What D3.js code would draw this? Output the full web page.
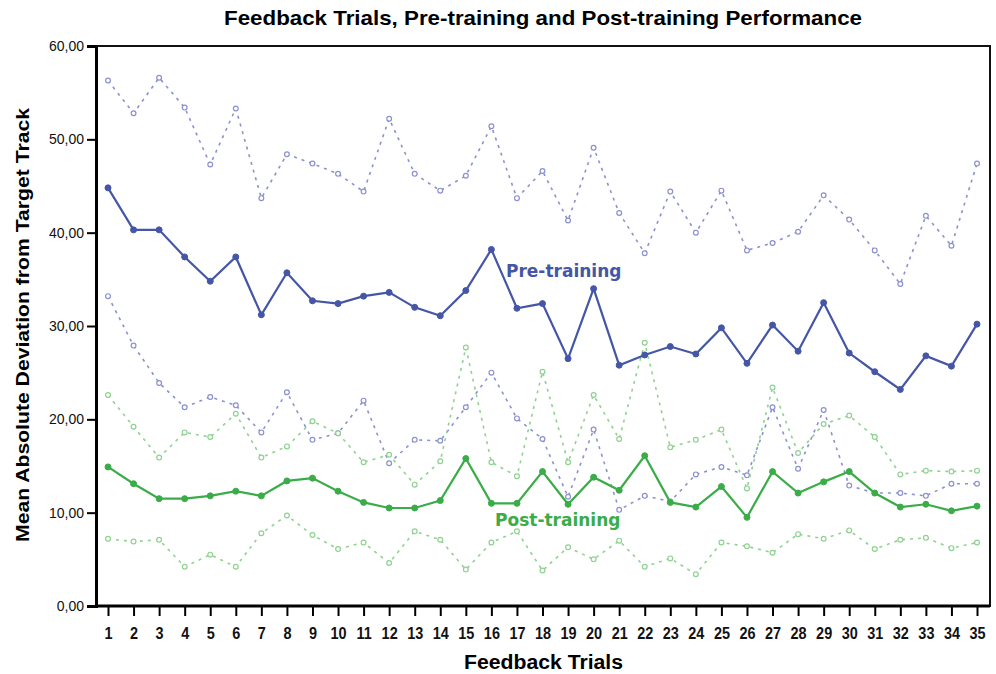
<!DOCTYPE html>
<html>
<head>
<meta charset="utf-8">
<script src="https://cdn.jsdelivr.net/npm/d3@7"></script>
<style>
  body { margin: 0; background: #fff; }
  .narrow { font-family: "Liberation Sans Narrow", "Arial Narrow", "Liberation Sans", sans-serif; }
</style>
</head>
<body>
<div id="container"></div>
<script>
/* CONSTANTS AND GLOBALS */
const width = 996, height = 674,
      margin = {top: 46, right: 6, bottom: 68, left: 96};

// DATA
const trials = d3.range(1, 36);
const yTicks = [0, 10, 20, 30, 40, 50, 60];

const preMean  = [44.8, 40.3, 40.3, 37.4, 34.8, 37.4, 31.2, 35.7, 32.7, 32.4, 33.2, 33.6, 32.0, 31.1, 33.8, 38.2, 31.9, 32.4, 26.5, 34.0, 25.8, 26.9, 27.8, 27.0, 29.8, 26.0, 30.1, 27.3, 32.5, 27.1, 25.1, 23.2, 26.8, 25.7, 30.2];
const preUpper = [56.3, 52.8, 56.6, 53.4, 47.3, 53.3, 43.7, 48.4, 47.4, 46.3, 44.4, 52.2, 46.3, 44.5, 46.1, 51.4, 43.7, 46.6, 41.3, 49.1, 42.1, 37.8, 44.4, 40.0, 44.5, 38.1, 38.9, 40.1, 44.0, 41.4, 38.1, 34.5, 41.8, 38.6, 47.4];
const preLower = [33.2, 27.9, 23.9, 21.3, 22.4, 21.5, 18.6, 22.9, 17.8, 18.5, 22.0, 15.3, 17.8, 17.7, 21.3, 25.0, 20.1, 17.9, 11.7, 18.9, 10.3, 11.8, 11.2, 14.1, 14.9, 14.0, 21.3, 14.7, 21.0, 12.9, 12.1, 12.1, 11.8, 13.1, 13.1];

const postMean  = [14.9, 13.1, 11.5, 11.5, 11.8, 12.3, 11.8, 13.4, 13.7, 12.3, 11.1, 10.5, 10.5, 11.3, 15.8, 11.0, 11.0, 14.4, 10.9, 13.8, 12.4, 16.1, 11.1, 10.6, 12.8, 9.5, 14.4, 12.1, 13.3, 14.4, 12.1, 10.6, 10.9, 10.2, 10.7];
const postUpper = [22.6, 19.2, 15.9, 18.6, 18.1, 20.6, 15.9, 17.1, 19.8, 18.5, 15.4, 16.2, 13.0, 15.5, 27.7, 15.4, 13.9, 25.1, 15.4, 22.6, 17.9, 28.2, 17.0, 17.8, 18.9, 12.6, 23.4, 16.4, 19.5, 20.4, 18.1, 14.1, 14.5, 14.4, 14.5];
const postLower = [7.2, 6.9, 7.1, 4.2, 5.5, 4.2, 7.8, 9.7, 7.6, 6.1, 6.8, 4.6, 8.0, 7.1, 3.9, 6.8, 8.0, 3.8, 6.3, 5.0, 7.0, 4.2, 5.1, 3.4, 6.8, 6.4, 5.7, 7.7, 7.2, 8.1, 6.1, 7.1, 7.3, 6.2, 6.8];

const blue = "#4556a6", blueLight = "#8c91cf",
      green = "#3aac48", greenLight = "#8fd291";

// SCALES
const xScale = d3.scaleLinear()
  .domain([1, 35])
  .range([108, 977]);

const yScale = d3.scaleLinear()
  .domain([0, 60])
  .range([height - margin.bottom, margin.top]);

// CREATE SVG ELEMENT
const svg = d3.select("#container")
  .append("svg")
  .attr("width", width)
  .attr("height", height);

// title (squeezed to look like a narrow face)
svg.append("text")
  .attr("class", "narrow")
  .attr("x", 224)
  .attr("y", 25)
  .attr("font-size", 21)
  .attr("font-weight", "bold")
  .attr("textLength", 638)
  .attr("lengthAdjust", "spacingAndGlyphs")
  .text("Feedback Trials, Pre-training and Post-training Performance");

// frame (top + right)
svg.append("rect")
  .attr("x", margin.left)
  .attr("y", margin.top)
  .attr("width", width - margin.right - margin.left)
  .attr("height", height - margin.bottom - margin.top)
  .attr("fill", "none")
  .attr("stroke", "#111")
  .attr("stroke-width", 2);

// AXES
const yAxis = d3.axisLeft(yScale)
  .tickValues(yTicks)
  .tickSize(9)
  .tickFormat(d => d3.format(".2f")(d).replace(".", ","));

const gy = svg.append("g")
  .attr("transform", `translate(${margin.left}, 0)`)
  .call(yAxis);
gy.select(".domain").attr("stroke-width", 3);
gy.selectAll(".tick line").attr("stroke-width", 2);
gy.selectAll(".tick text")
  .attr("class", "narrow")
  .attr("font-size", 14)
  .attr("fill", "#111");

const xAxis = d3.axisBottom(xScale)
  .tickValues(trials)
  .tickSize(10)
  .tickFormat(d3.format("d"));

const gx = svg.append("g")
  .attr("transform", `translate(0, ${height - margin.bottom})`)
  .call(xAxis);
gx.select(".domain").attr("stroke-width", 3)
  .attr("d", `M${margin.left},0H${width - margin.right}`);
gx.selectAll(".tick line").attr("stroke-width", 2);
// squeeze horizontally around the tick so labels stay centred
gx.selectAll(".tick text")
  .attr("class", "narrow")
  .attr("font-size", 17)
  .attr("font-weight", "bold")
  .attr("dy", "1.15em")
  .attr("transform", "scale(0.85,1)")
  .attr("fill", "#111");

// axis titles
svg.append("text")
  .attr("class", "narrow")
  .attr("x", 464)
  .attr("y", 669)
  .attr("font-size", 20)
  .attr("font-weight", "bold")
  .attr("textLength", 159)
  .attr("lengthAdjust", "spacingAndGlyphs")
  .text("Feedback Trials");

svg.append("text")
  .attr("transform", "translate(29, 325) rotate(-90)")
  .attr("text-anchor", "middle")
  .attr("font-family", "Liberation Sans, Arial, sans-serif")
  .attr("font-size", 18)
  .attr("font-weight", "bold")
  .attr("textLength", 434)
  .attr("lengthAdjust", "spacingAndGlyphs")
  .text("Mean Absolute Deviation from Target Track");

// LINE GENERATOR FUNCTION
const lineGen = d3.line()
  .x((d, i) => xScale(trials[i]))
  .y(d => yScale(d));

const series = [
  {vals: preUpper,  color: blueLight,  dashed: true},
  {vals: preLower,  color: blueLight,  dashed: true},
  {vals: postUpper, color: greenLight, dashed: true},
  {vals: postLower, color: greenLight, dashed: true},
  {vals: preMean,   color: blue,       dashed: false},
  {vals: postMean,  color: green,      dashed: false}
];

series.forEach(s => {
  svg.append("path")
    .datum(s.vals)
    .attr("fill", "none")
    .attr("stroke", s.color)
    .attr("stroke-width", s.dashed ? 1.6 : 2.2)
    .attr("stroke-dasharray", s.dashed ? "3,5" : null)
    .attr("d", lineGen);

  svg.selectAll(null)
    .data(s.vals)
    .join("circle")
    .attr("cx", (d, i) => xScale(trials[i]))
    .attr("cy", d => yScale(d))
    .attr("r", s.dashed ? 2.4 : 3)
    .attr("fill", s.dashed ? "#fff" : s.color)
    .attr("stroke", s.color)
    .attr("stroke-width", s.dashed ? 1.2 : 1);
});

// series labels
svg.append("text")
  .attr("x", 506)
  .attr("y", 277)
  .attr("font-family", "DejaVu Sans, sans-serif")
  .attr("font-size", 17)
  .attr("font-weight", "bold")
  .attr("fill", blue)
  .text("Pre-training");

svg.append("text")
  .attr("x", 495)
  .attr("y", 526)
  .attr("font-family", "DejaVu Sans, sans-serif")
  .attr("font-size", 17)
  .attr("font-weight", "bold")
  .attr("fill", green)
  .text("Post-training");
</script>
</body>
</html>
